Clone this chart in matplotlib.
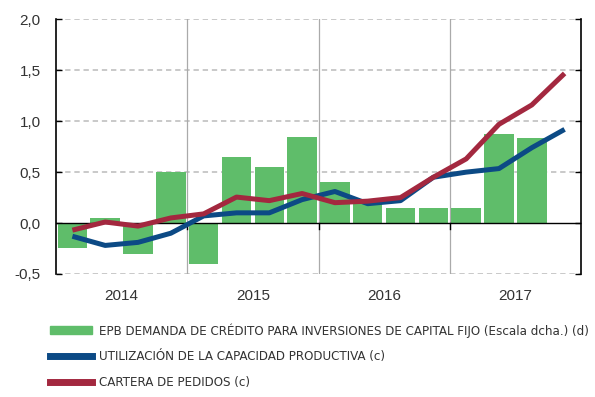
import numpy as np
import matplotlib
matplotlib.use("Agg")
import matplotlib.pyplot as plt
from matplotlib.lines import Line2D
from matplotlib.patches import Patch
from matplotlib import font_manager

# quarterly series 2014Q1 - 2017Q4
quarters = ["2014Q1", "2014Q2", "2014Q3", "2014Q4",
            "2015Q1", "2015Q2", "2015Q3", "2015Q4",
            "2016Q1", "2016Q2", "2016Q3", "2016Q4",
            "2017Q1", "2017Q2", "2017Q3", "2017Q4"]
years = ["2014", "2015", "2016", "2017"]

epb_demanda = [-0.25, 0.05, -0.30, 0.50,
               -0.40, 0.65, 0.55, 0.85,
               0.40, 0.20, 0.15, 0.15,
               0.15, 0.87, 0.84, np.nan]
utilizacion = [-0.13, -0.22, -0.19, -0.10,
               0.07, 0.10, 0.10, 0.23,
               0.31, 0.19, 0.22, 0.45,
               0.50, 0.535, 0.74, 0.92]
cartera = [-0.07, 0.01, -0.03, 0.05,
           0.09, 0.255, 0.22, 0.29,
           0.20, 0.215, 0.25, 0.45,
           0.63, 0.97, 1.16, 1.47]

labels = ["EPB DEMANDA DE CRÉDITO PARA INVERSIONES DE CAPITAL FIJO (Escala dcha.) (d)",
          "UTILIZACIÓN DE LA CAPACIDAD PRODUCTIVA (c)",
          "CARTERA DE PEDIDOS (c)"]

GREEN = "#5fbd6a"
BLUE = "#0c4a85"
RED = "#a3283f"
TXT = "#333333"

plt.rcParams["font.family"] = ["Liberation Sans", "DejaVu Sans"]

# narrow face for the legend if one is around
names = {f.name for f in font_manager.fontManager.ttflist}
narrow = [n for n in ["Liberation Sans Narrow", "DejaVu Sans Condensed"] if n in names]
has_cond = any(f.name == "DejaVu Sans" and f.stretch == "condensed"
               for f in font_manager.fontManager.ttflist)

fig = plt.figure(figsize=(5.95, 3.97), dpi=100)
ax = fig.add_axes([0.0941, 0.310, 0.8824, 0.641])

x = np.arange(len(quarters))
ax.bar(x, epb_demanda, width=0.9, color=GREEN, zorder=2)
ax.axhline(0, color="black", lw=1.0, zorder=3)
ax.plot(x, utilizacion, color=BLUE, lw=3.6, zorder=4, solid_capstyle="butt")
ax.plot(x, cartera, color=RED, lw=3.6, zorder=5, solid_capstyle="butt")

ax.set_xlim(-0.5, 15.5)
ax.set_ylim(-0.5, 2.0)

# dashed horizontal grid, solid year separators
for yv in [-0.5, 0.5, 1.0, 1.5, 2.0]:
    ax.axhline(yv, color="#bbbbbb", lw=1.1, ls=(0, (3.5, 2.5)), zorder=1)
bounds = [3.5, 7.5, 11.5]
for b in bounds:
    ax.axvline(b, color="#aaaaaa", lw=0.9, zorder=1)
    ax.plot([b, b], [0, -0.06], color="black", lw=1.0, zorder=3)

ax.set_yticks([-0.5, 0.0, 0.5, 1.0, 1.5, 2.0])
ax.set_yticklabels(["-0,5", "0,0", "0,5", "1,0", "1,5", "2,0"],
                   fontsize=11, color=TXT)
ax.tick_params(axis="y", direction="in", length=4, width=1.0,
               right=True, left=True, pad=11)

ax.set_xticks([1.5, 5.5, 9.5, 13.5])
ax.set_xticklabels(years, fontsize=11, color=TXT)
ax.tick_params(axis="x", length=0, pad=11)

for side in ["top", "bottom"]:
    ax.spines[side].set_visible(False)
for side in ["left", "right"]:
    ax.spines[side].set_linewidth(1.2)

if narrow:
    prop = {"family": [narrow[0], "DejaVu Sans"], "size": 9.8}
elif has_cond:
    prop = {"family": ["DejaVu Sans"], "stretch": "condensed", "size": 9.5}
else:
    prop = {"family": ["Liberation Sans", "DejaVu Sans"], "size": 8.6}

handles = [Patch(color=GREEN),
           Line2D([], [], color=BLUE, lw=5),
           Line2D([], [], color=RED, lw=5)]
leg = fig.legend(handles, labels, loc="upper left",
                 bbox_to_anchor=(0.075, 0.199), frameon=False,
                 handlelength=3.2, handleheight=0.5, handletextpad=0.5,
                 labelspacing=0.95, borderaxespad=0, prop=prop)
for t in leg.get_texts():
    t.set_color(TXT)

fig.savefig("out.png", dpi=100)
